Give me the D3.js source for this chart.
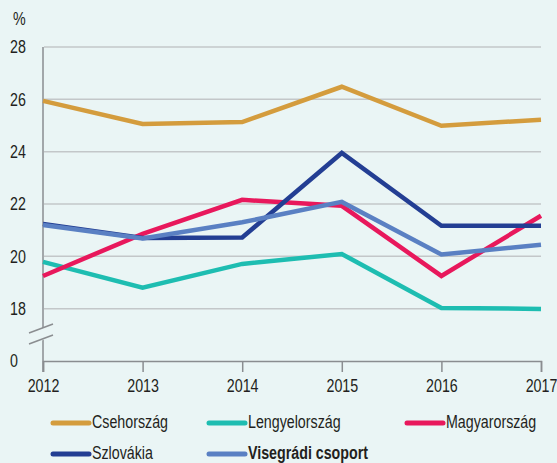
<!DOCTYPE html>
<html>
<head>
<meta charset="utf-8">
<script src="https://cdn.jsdelivr.net/npm/d3@7"></script>
<style>
  body { margin: 0; background: #eaf5f5; }
  svg { display: block; font-family: "Liberation Sans", Arial, sans-serif; }
</style>
</head>
<body>
<script>
// data
var years = [2012, 2013, 2014, 2015, 2016, 2017];
var yTicks = [18, 20, 22, 24, 26, 28];
var cz = [25.94, 25.06, 25.13, 26.48, 24.99, 25.22];
var pl = [19.79, 18.80, 19.71, 20.09, 18.03, 17.99];
var hu = [19.25, 20.86, 22.16, 21.93, 19.25, 21.55];
var sk = [21.24, 20.70, 20.72, 23.95, 21.17, 21.17];
var v4 = [21.20, 20.68, 21.30, 22.08, 20.07, 20.44];
var names = ["Csehország", "Lengyelország", "Magyarország", "Szlovákia", "Visegrádi csoport"];
var colors = ["#d49c3d", "#1ebdb1", "#e8185c", "#233e93", "#5a80c3"];

var series = [cz, pl, hu, sk, v4].map(function(vals, i) {
  return { name: names[i], color: colors[i], values: vals };
});

var width = 557, height = 463;
var squeeze = "scale(0.77,1)";   // condensed look
var fontSize = "18.5px";
var ink = "#231f20";
var axisCol = "#8a8d90";

var svg = d3.select("body").append("svg").attr("width", width).attr("height", height);

var x = d3.scaleLinear().domain([2012, 2017]).range([43, 541]);
// bottom of the axis stands for 0, drawn where 16 would be (axis break)
var y = d3.scaleLinear().domain([16, 28]).range([361, 47]);

function label(parent, px, py, txt, anchor, weight) {
  var g = parent.append("g").attr("transform", "translate(" + px + "," + py + ")");
  g.append("text")
    .attr("transform", squeeze)
    .attr("text-anchor", anchor || "start")
    .attr("dy", "0.35em")
    .attr("fill", ink)
    .style("font-size", fontSize)
    .style("font-weight", weight || "normal")
    .text(txt);
  return g;
}

// gridlines
svg.append("g").selectAll("line")
  .data(yTicks)
  .enter().append("line")
    .attr("x1", 44).attr("x2", 541)
    .attr("y1", function(d) { return y(d); })
    .attr("y2", function(d) { return y(d); })
    .attr("stroke", "#c3c7c9")
    .attr("stroke-width", 1.5);

// y axis line
svg.append("line")
  .attr("x1", 43).attr("x2", 43)
  .attr("y1", 47).attr("y2", 372)
  .attr("stroke", axisCol).attr("stroke-width", 1.5);

// x axis
var xAxis = svg.append("g").attr("transform", "translate(0," + y(16) + ")")
  .call(d3.axisBottom(x).tickValues(years).tickFormat(d3.format("d")).tickSizeOuter(0).tickSize(11).tickPadding(7));
xAxis.select(".domain").attr("stroke", axisCol).attr("stroke-width", 1.5);
xAxis.selectAll(".tick line").attr("stroke", axisCol).attr("stroke-width", 1.5);
xAxis.selectAll("text")
  .attr("transform", squeeze)
  .attr("fill", ink)
  .style("font-size", fontSize)
  .style("font-family", "\"Liberation Sans\", Arial, sans-serif");

// y labels
var yl = svg.append("g");
yTicks.forEach(function(t) { label(yl, 10, y(t), t); });
label(yl, 10, y(16), "0");
label(svg, 13, 19, "%");

// axis break
svg.append("polygon")
  .attr("points", "36,331 50,325 50,337 36,343")
  .attr("fill", "#eaf5f5");
svg.selectAll(".brk")
  .data([0, 11])
  .enter().append("line")
    .attr("class", "brk")
    .attr("x1", 29).attr("x2", 53)
    .attr("y1", function(d) { return 333 + d; })
    .attr("y2", function(d) { return 324 + d; })
    .attr("stroke", axisCol).attr("stroke-width", 1.5);

// lines
var line = d3.line()
  .x(function(d, i) { return x(years[i]); })
  .y(function(d) { return y(d); });

svg.append("g").selectAll("path")
  .data(series)
  .enter().append("path")
    .attr("d", function(d) { return line(d.values); })
    .attr("fill", "none")
    .attr("stroke", function(d) { return d.color; })
    .attr("stroke-width", 4.5)
    .attr("stroke-linejoin", "miter");

// legend
var legendPos = [[50, 423], [206, 423], [404, 423], [50, 454], [206, 454]];
var leg = svg.append("g").selectAll("g")
  .data(series)
  .enter().append("g")
    .attr("transform", function(d, i) { return "translate(" + legendPos[i][0] + "," + legendPos[i][1] + ")"; });
leg.append("line")
  .attr("x1", 3).attr("x2", 39)
  .attr("stroke", function(d) { return d.color; })
  .attr("stroke-width", 5)
  .attr("stroke-linecap", "round");
leg.each(function(d, i) {
  label(d3.select(this), 42, -1, d.name, "start", i == 4 ? "bold" : "normal");
});
</script>
</body>
</html>
